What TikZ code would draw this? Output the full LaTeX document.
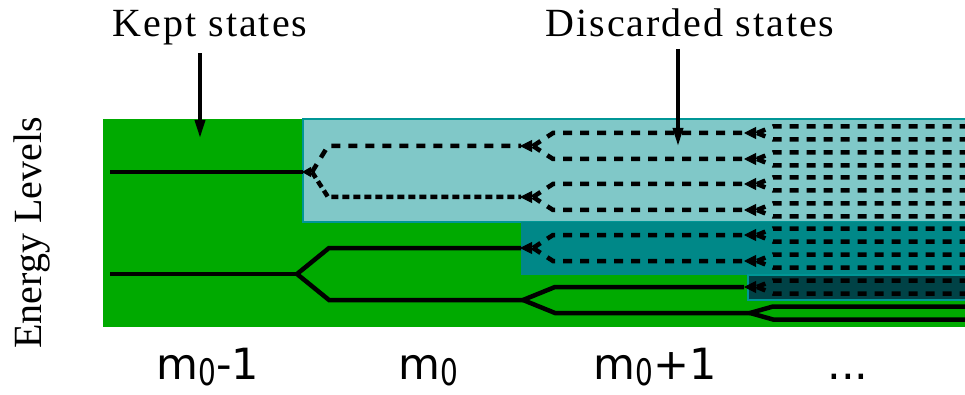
\documentclass[tikz,border=0pt]{standalone}
\usepackage{fontspec}
\setmainfont{Liberation Serif}
\newfontfamily\labelfont{DejaVu Sans}
\usepackage{tikz}
\usetikzlibrary{arrows.meta}

\definecolor{keptgreen}{RGB}{0,170,0}
\definecolor{lightteal}{RGB}{128,200,200}
\definecolor{midteal}{RGB}{0,136,136}
\definecolor{darkteal}{RGB}{0,66,70}
\definecolor{edgeteal}{RGB}{0,150,150}

\newcommand{\mzero}{m\raisebox{-6pt}{\scalebox{0.65}[0.85]{0}}}

\begin{document}
\begin{tikzpicture}[
  x=1pt, y=-1pt,
  lvl/.style={line width=4.5pt},
  disc/.style={line width=4.5pt, dash pattern=on 9pt off 8pt},
  cut/.style={line width=1pt, -{Triangle[length=12pt, width=12pt]}},
  pointer/.style={-{Triangle[length=18pt, width=10pt]}, line width=3.5pt},
  toplabel/.style={font=\fontsize{40}{44}\selectfont\addfontfeature{LetterSpace=5}, anchor=base},
  mlabel/.style={font=\labelfont\fontsize{43}{48}\selectfont, anchor=base, inner sep=0pt},
]
\useasboundingbox (0,0) rectangle (965,395);

% regions
\fill[keptgreen] (103,119) rectangle (965,327);
\filldraw[fill=lightteal, draw=edgeteal, line width=1.5pt] (303,119) rectangle (966,222);
\fill[midteal] (521,222) rectangle (965,275);
\filldraw[fill=darkteal, draw=edgeteal, line width=1.5pt] (748,275) rectangle (966,300);

% m0-1
\draw[lvl] (110,172) -- (303,172);
\draw[lvl] (110,274) -- (297,274);

% m0
\draw[disc] (312,172) -- (328,146) -- (521,146);
\draw[disc, dash pattern=on 7pt off 4pt] (312,172) -- (328,197) -- (521,197);
\draw[lvl] (297,274) -- (329,248) -- (521,248);
\draw[lvl] (297,274) -- (329,300) -- (523,300);

% m0+1
\foreach \y in {146,197,248}{
  \draw[disc] (533,\y) -- (553,\y-13) -- (744,\y-13);
  \draw[disc] (533,\y) -- (553,\y+13) -- (744,\y+13);
}
\draw[lvl] (523,300) -- (555,287) -- (744,287);
\draw[lvl] (523,300) -- (555,313) -- (750,313);

% m0+2
\foreach \y in {133,159,184,210,235,261,287}{
  \draw[disc] (757,\y) -- (773,\y-6.5) -- (966,\y-6.5);
  \draw[disc] (757,\y) -- (773,\y+6.5) -- (966,\y+6.5);
}
\draw[lvl] (750,313) -- (773,306.5) -- (966,306.5);
\draw[lvl] (750,313) -- (773,319.5) -- (966,319.5);

% cut-off tips
\draw[cut, -{Triangle[length=9pt, width=10pt]}] (312,172) -- (302,172);
\foreach \y in {146,197,248}
  \draw[cut] (533,\y) -- (520,\y);
\foreach \y in {133,159,184,210,235,261,287}
  \draw[cut] (757,\y) -- (744,\y);

% labels
\node[toplabel] (kept) at (210,37) {Kept states};
\node[toplabel] (disc) at (690,37) {Discarded states};
\coordinate (keptend) at (200,138);
\coordinate (discend) at (678,146);
\draw[pointer] ([xshift=-10pt, yshift=-4pt]kept.south) -- (keptend);
\draw[pointer] ([xshift=-12pt, yshift=-8pt]disc.south) -- (discend);

\node[rotate=90, anchor=base, font=\fontsize{40}{44}\selectfont] (energy) at (41,233) {Energy Levels};

\node[mlabel] (col1) at (208,379) {\mzero-1};
\node[mlabel] (col2) at (428,379) {\mzero};
\node[mlabel] (col3) at (655,379) {\mzero+1};
\node[mlabel] (col4) at (848,379) {...};

\end{tikzpicture}
\end{document}
